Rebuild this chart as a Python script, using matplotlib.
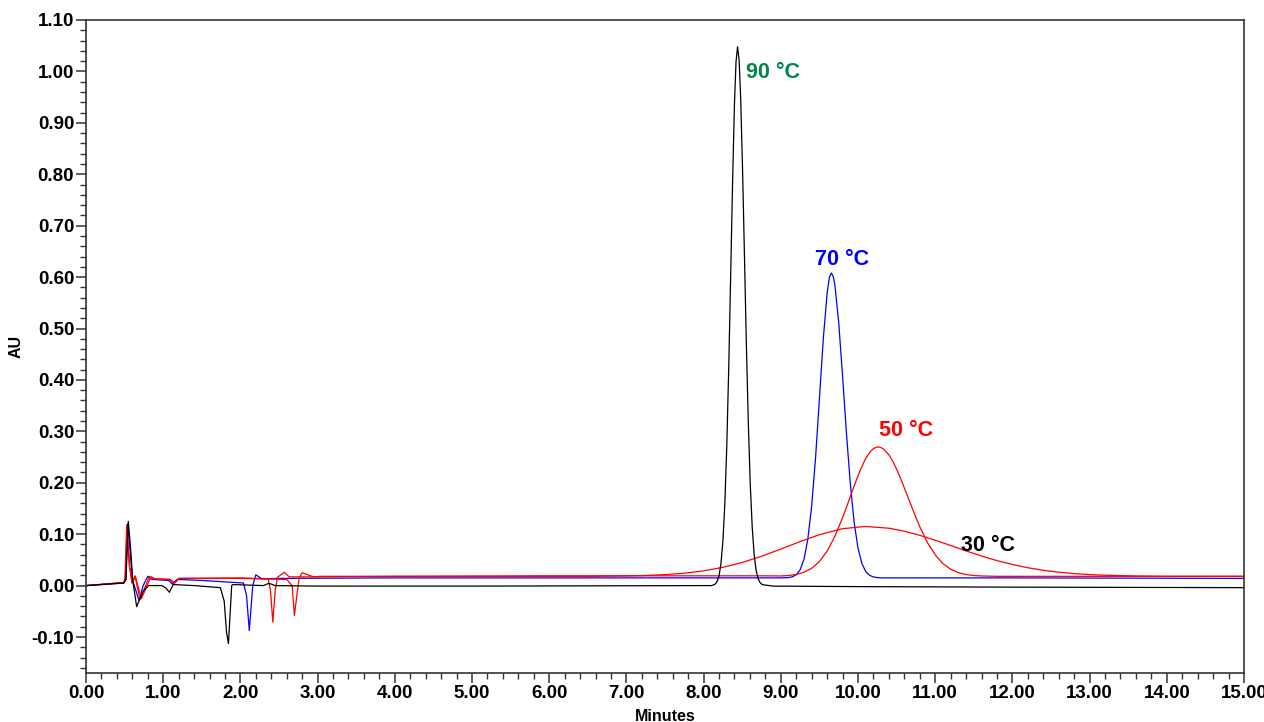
import matplotlib
matplotlib.use("Agg")
import matplotlib.pyplot as plt
from matplotlib.ticker import MultipleLocator, FormatStrFormatter

plt.rcParams['font.family'] = ['Liberation Sans', 'DejaVu Sans']

# ---------------- data (minutes, AU) ----------------
t90 = [0, 0.49, 0.518, 0.548, 0.579, 0.604, 0.656, 0.70, 0.74, 0.81, 0.98, 1.03, 1.08, 1.13,
       1.40, 1.74, 1.79, 1.82, 1.845, 1.865, 1.887, 1.90, 2.30, 2.36, 2.40, 2.45, 3.0, 5.0,
       8.0, 8.10, 8.125, 8.15, 8.175, 8.20, 8.225, 8.25, 8.275, 8.30, 8.325, 8.35, 8.375,
       8.40, 8.42, 8.44, 8.46, 8.48, 8.505, 8.53, 8.555, 8.58, 8.605, 8.63, 8.655, 8.68,
       8.705, 8.73, 8.76, 8.80, 8.90, 10.0, 12.0, 15.0]
v90 = [0, 0.005, 0.012, 0.125, 0.070, 0.012, -0.041, -0.025, -0.011, 0.000, 0.000, -0.004,
       -0.013, 0.002, 0.000, -0.004, -0.030, -0.090, -0.113, -0.060, 0.000, 0.002, 0.000,
       0.004, 0.003, 0.000, -0.001, -0.001, 0.000, 0.000, 0.001, 0.003, 0.008, 0.019, 0.043,
       0.086, 0.159, 0.270, 0.420, 0.598, 0.782, 0.938, 1.019, 1.048, 1.022, 0.949, 0.807,
       0.636, 0.463, 0.312, 0.195, 0.113, 0.060, 0.030, 0.014, 0.006, 0.002, 0.001, -0.001,
       -0.002, -0.003, -0.004]

t70 = [0, 0.49, 0.515, 0.54, 0.575, 0.605, 0.687, 0.74, 0.80, 0.85, 1.07, 1.115, 1.18, 1.50,
       2.04, 2.08, 2.115, 2.16, 2.20, 2.28, 2.50, 4.0, 9.0, 9.10, 9.15, 9.20, 9.25, 9.30,
       9.35, 9.40, 9.45, 9.50, 9.55, 9.60, 9.63, 9.655, 9.68, 9.70, 9.75, 9.80, 9.85, 9.90,
       9.95, 10.0, 10.05, 10.10, 10.15, 10.20, 10.25, 10.3, 12.0, 15.0]
v70 = [0, 0.005, 0.012, 0.120, 0.060, 0.010, -0.029, 0.000, 0.018, 0.012, 0.010, 0.003,
       0.012, 0.010, 0.005, -0.020, -0.0875, 0.000, 0.021, 0.013, 0.014, 0.015, 0.015,
       0.0156, 0.0171, 0.021, 0.0305, 0.051, 0.090, 0.155, 0.248, 0.363, 0.479, 0.569, 0.600,
       0.608, 0.601, 0.585, 0.512, 0.408, 0.297, 0.199, 0.123, 0.073, 0.043, 0.0274, 0.020,
       0.0168, 0.0156, 0.015, 0.015, 0.014]

t50 = [0, 0.49, 0.505, 0.527, 0.56, 0.595, 0.635, 0.66, 0.70, 0.76, 0.82, 0.88, 1.08, 1.14,
       1.20, 2.0, 2.36, 2.39, 2.42, 2.45, 2.48, 2.57, 2.63, 3.0, 4.0, 6.0, 8.8, 9.0, 9.1, 9.2,
       9.3, 9.4, 9.5, 9.6, 9.7, 9.8, 9.85, 9.9, 9.95, 10.0, 10.05, 10.1, 10.15, 10.2, 10.26,
       10.32, 10.4, 10.45, 10.5, 10.55, 10.6, 10.65, 10.7, 10.75, 10.8, 10.9, 11.0, 11.1,
       11.2, 11.3, 11.4, 11.5, 11.6, 11.8, 15.0]
v50 = [0, 0.006, 0.015, 0.118, 0.040, 0.005, 0.019, 0.000, -0.027, -0.005, 0.018, 0.013,
       0.012, 0.004, 0.014, 0.015, 0.013, -0.010, -0.071, -0.010, 0.016, 0.026, 0.017, 0.017,
       0.018, 0.019, 0.019, 0.0187, 0.0196, 0.0217, 0.0259, 0.0336, 0.0468, 0.067, 0.0957,
       0.132, 0.152, 0.173, 0.1936, 0.2136, 0.2316, 0.247, 0.2588, 0.2666, 0.270, 0.267,
       0.2543, 0.2418, 0.2266, 0.2091, 0.190, 0.1708, 0.1514, 0.1325, 0.1146, 0.0836, 0.0597,
       0.0428, 0.0318, 0.0252, 0.0215, 0.0196, 0.0187, 0.018, 0.018]

t30 = [0, 0.49, 0.51, 0.532, 0.565, 0.60, 0.64, 0.67, 0.72, 0.78, 0.84, 0.90, 1.09, 1.15,
       1.21, 2.0, 2.60, 2.67, 2.70, 2.73, 2.76, 2.80, 2.95, 3.03, 3.30, 4.0, 6.0, 6.5, 6.8,
       7.0, 7.25, 7.5, 7.75, 8.0, 8.25, 8.5, 8.75, 9.0, 9.25, 9.5, 9.8, 10.1, 10.4, 10.6,
       10.8, 11.0, 11.2, 11.4, 11.6, 11.8, 12.0, 12.2, 12.4, 12.6, 12.8, 13.0, 13.2, 13.6,
       14.0, 15.0]
v30 = [0, 0.006, 0.015, 0.110, 0.040, 0.005, 0.018, 0.000, -0.025, -0.004, 0.017, 0.013,
       0.012, 0.005, 0.014, 0.014, 0.012, 0.000, -0.058, -0.020, 0.014, 0.025, 0.017, 0.018,
       0.018, 0.018, 0.018, 0.018, 0.0184, 0.0188, 0.0197, 0.0213, 0.0241, 0.0287, 0.0355,
       0.045, 0.057, 0.071, 0.0856, 0.099, 0.1107, 0.115, 0.1116, 0.1058, 0.0978, 0.0882,
       0.078, 0.0674, 0.0576, 0.0486, 0.041, 0.0347, 0.0298, 0.026, 0.0233, 0.0214, 0.0201,
       0.0187, 0.018, 0.018]

labels = ["90 °C", "70 °C", "50 °C", "30 °C"]
label_colors = ["#00884a", "#0000ff", "#ff0000", "#000000"]
label_x = [8.90, 9.79, 10.62, 11.68]
label_y = [0.997, 0.634, 0.301, 0.078]

# ---------------- figure ----------------
fig = plt.figure(figsize=(12.64, 7.22), dpi=100)
ax = fig.add_axes([86 / 1264, 49 / 722, (1244 - 86) / 1264, (673 - 20) / 722])

lw = 0.9
ax.plot(t70, v70, color="#0000ff", lw=lw)
ax.plot(t30, v30, color="#ff0000", lw=lw)
ax.plot(t50, v50, color="#ff0000", lw=lw)
ax.plot(t90, v90, color="#000000", lw=lw)

for s, c, x, y in zip(labels, label_colors, label_x, label_y):
    ax.text(x, y, s, color=c, fontsize=15.5, fontweight="bold", ha="center", va="center")

ax.set_xlim(0, 15)
ax.set_ylim(-0.17, 1.10)
ax.xaxis.set_major_locator(MultipleLocator(1.0))
ax.xaxis.set_minor_locator(MultipleLocator(0.2))
ax.yaxis.set_minor_locator(MultipleLocator(0.02))
ax.xaxis.set_major_formatter(FormatStrFormatter("%.2f"))
ax.yaxis.set_major_formatter(FormatStrFormatter("%.2f"))
ax.set_yticks([round(-0.1 + 0.1 * i, 2) for i in range(13)])

ax.tick_params(which="major", direction="out", length=7, width=1.1, labelsize=13.5,
               colors="#333333", labelcolor="black", pad=1.5)
ax.tick_params(which="minor", direction="out", length=4, width=1.0, colors="#333333")
for lab in ax.get_xticklabels() + ax.get_yticklabels():
    lab.set_fontweight("bold")

for sp in ax.spines.values():
    sp.set_linewidth(1.2)
    sp.set_color("#333333")

ax.set_xlabel("Minutes", fontsize=11.5, fontweight="bold")
ax.set_ylabel("AU", fontsize=11.5, fontweight="bold")
ax.xaxis.set_label_coords(0.5, -0.0555)
ax.yaxis.set_label_coords(-0.0535, 0.5)

fig.savefig("out.png", dpi=100)
